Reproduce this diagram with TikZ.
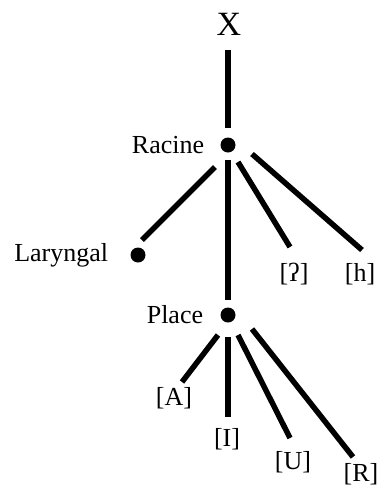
\documentclass[tikz,border=0pt]{standalone}
\usepackage{fontspec}
\setmainfont{Liberation Serif}
\usetikzlibrary{positioning, calc}

\begin{document}
\begin{tikzpicture}[
    x=1pt, y=-1pt,
    feat/.style={inner sep=0pt, font=\fontsize{26}{30}\selectfont},
    top/.style={inner sep=0pt, font=\fontsize{34}{40}\selectfont},
    dot/.style={circle, fill=black, inner sep=0pt, minimum size=15pt},
    branch/.style={line width=5.5pt}
]
\useasboundingbox (0,0) rectangle (380,488);

\node[top] (x) at (229,24) {X};
\node[dot] (racine) at (228,145) {};
\node[feat, left=16pt of racine] (racinelbl) {Racine};
\node[dot] (laryngal) at (138,255) {};
\node[feat, left=22pt of laryngal] (laryngallbl) {Laryngal};
\node[feat] (glottal) at (294,274) {[ʔ]};
\node[feat] (h) at (360,274) {[h]};
\node[dot] (place) at (228,315) {};
\node[feat, left=17pt of place] (placelbl) {Place};
\node[feat] (a) at (174,398) {[A]};
\node[feat] (i) at (227,439) {[I]};
\node[feat] (u) at (293,462) {[U]};
\node[feat] (r) at (361,474) {[R]};

% Racine
\draw[branch] ($(x.south)+(-1,15)$) -- ($(racine)+(0,-17)$);
\draw[branch] ($(racine)+(0,15)$) -- ($(place)+(0,-15)$);
\draw[branch] ($(racine)+(-13,22)$) -- ($(laryngal)+(4,-15)$);
\draw[branch] ($(racine)+(10,17)$) -- ($(glottal)+(-4,-27)$);
\draw[branch] ($(racine)+(24,9)$) -- ($(h)+(2,-24)$);

% Place
\draw[branch] ($(place)+(-10,20)$) -- ($(a)+(8,-16)$);
\draw[branch] ($(place)+(0,22)$) -- ($(i)+(1,-22)$);
\draw[branch] ($(place)+(10,20)$) -- ($(u)+(-3,-24)$);
\draw[branch] ($(place)+(24,14)$) -- ($(r)+(-8,-17)$);

\end{tikzpicture}
\end{document}
